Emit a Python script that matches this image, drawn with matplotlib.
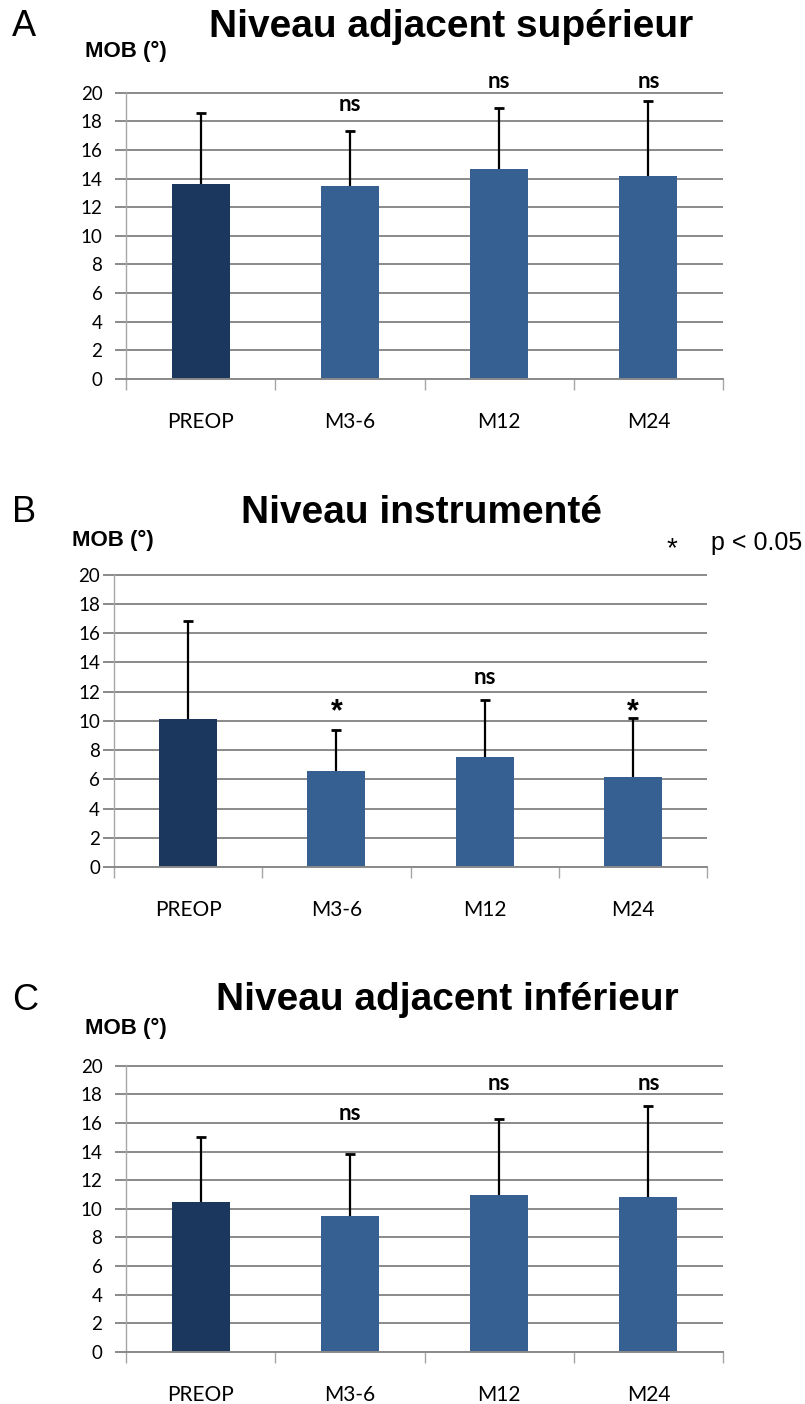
import matplotlib
matplotlib.use("Agg")
import matplotlib.pyplot as plt
import numpy as np

# values (MOB in degrees, mean and upper SD)
categories = ["PREOP", "M3-6", "M12", "M24"]

mob_sup = [13.6, 13.5, 14.7, 14.2]
sd_sup = [5.0, 3.8, 4.2, 5.25]
sig_sup = ["", "ns", "ns", "ns"]

mob_instr = [10.1, 6.55, 7.5, 6.15]
sd_instr = [6.7, 2.85, 3.9, 4.05]
sig_instr = ["", "*", "ns", "*"]

mob_inf = [10.45, 9.5, 11.0, 10.8]
sd_inf = [4.55, 4.35, 5.25, 6.4]
sig_inf = ["", "ns", "ns", "ns"]

W, H = 805, 1404
dark_blue = "#1b375d"
mid_blue = "#376092"
grid_grey = "#8a8a8a"
tick_font = "Lato"
head_font = "Liberation Sans"


def px_rect(x0, y0, x1, y1):
    return [x0 / W, 1 - y1 / H, (x1 - x0) / W, (y1 - y0) / H]


def fig_text(x, y, s, **kw):
    fig.text(x / W, 1 - y / H, s, **kw)


fig = plt.figure(figsize=(W / 100, H / 100), dpi=100)

panels = [
    dict(letter="A", title="Niveau adjacent supérieur", vals=mob_sup, sd=sd_sup,
         sig=sig_sup, sig_y=[0, 19.2, 20.8, 20.8], box=(126, 92, 723, 379),
         title_x=451, top=27, ylab_x=85, ylab_y=51, ypad=9),
    dict(letter="B", title="Niveau instrumenté", vals=mob_instr, sd=sd_instr,
         sig=sig_instr, sig_y=[0, 10.6, 13.0, 10.6], box=(114, 574, 707, 867),
         title_x=421, top=513, ylab_x=72, ylab_y=540, ypad=2),
    dict(letter="C", title="Niveau adjacent inférieur", vals=mob_inf, sd=sd_inf,
         sig=sig_inf, sig_y=[0, 16.65, 18.75, 18.75], box=(126, 1065, 723, 1352),
         title_x=447, top=1000, ylab_x=85, ylab_y=1028, ypad=9),
]

x = np.arange(len(categories))
colors = [dark_blue] + [mid_blue] * (len(categories) - 1)

for p in panels:
    ax = fig.add_axes(px_rect(*p["box"]))
    ax.bar(x, p["vals"], width=0.39, color=colors, zorder=2)
    eb = ax.errorbar(x, p["vals"], yerr=[np.zeros(len(x)), p["sd"]], fmt="none",
                     ecolor="black", elinewidth=1.6, capsize=3.5, capthick=2, zorder=3)
    eb[1][0].set_visible(False)  # one-sided bars: drop the lower cap

    for xi, lab, yy in zip(x, p["sig"], p["sig_y"]):
        if not lab:
            continue
        if lab == "*":
            ax.text(xi, yy, lab, ha="center", va="center", fontsize=22,
                    fontweight="bold", family=head_font, clip_on=False)
        else:
            ax.text(xi, yy, lab, ha="center", va="center", fontsize=16,
                    fontweight="bold", family=tick_font, clip_on=False)

    ax.set_xlim(-0.5, len(x) - 0.5)
    ax.set_ylim(0, 20.05)
    ax.set_yticks(range(0, 21, 2))
    ax.yaxis.grid(True, color=grid_grey, linewidth=1.4)
    ax.set_axisbelow(True)

    ax.set_xticks(x)
    ax.set_xticklabels(categories, family=tick_font, fontsize=15)
    ax.set_xticks(np.arange(-0.5, len(x)), minor=True)
    ax.tick_params(axis="x", which="major", length=0, pad=24)
    ax.tick_params(axis="x", which="minor", length=8, width=1, color="#a6a6a6",
                   direction="out")
    ax.tick_params(axis="y", length=8, width=1.4, color=grid_grey, pad=p["ypad"])
    for t in ax.get_yticklabels():
        t.set_family(tick_font)
        t.set_fontsize(13.5)

    for side in ("top", "right"):
        ax.spines[side].set_visible(False)
    ax.spines["left"].set_color("#a6a6a6")
    ax.spines["left"].set_linewidth(1)
    ax.spines["bottom"].set_color(grid_grey)
    ax.spines["bottom"].set_linewidth(1.4)

    fig_text(12, p["top"], p["letter"], ha="left", va="center", fontsize=26,
             family=head_font)
    fig_text(p["title_x"], p["top"], p["title"], ha="center", va="center",
             fontsize=28, fontweight="bold", family=head_font)
    fig_text(p["ylab_x"], p["ylab_y"], "MOB (°)", ha="left", va="center",
             fontsize=16, fontweight="bold", family=head_font)

# legend for the star
fig_text(672, 549, "*", ha="center", va="center", fontsize=20, family=head_font)
fig_text(711, 543, "p < 0.05", ha="left", va="center", fontsize=18, family=head_font)

fig.savefig("out.png", dpi=100)
